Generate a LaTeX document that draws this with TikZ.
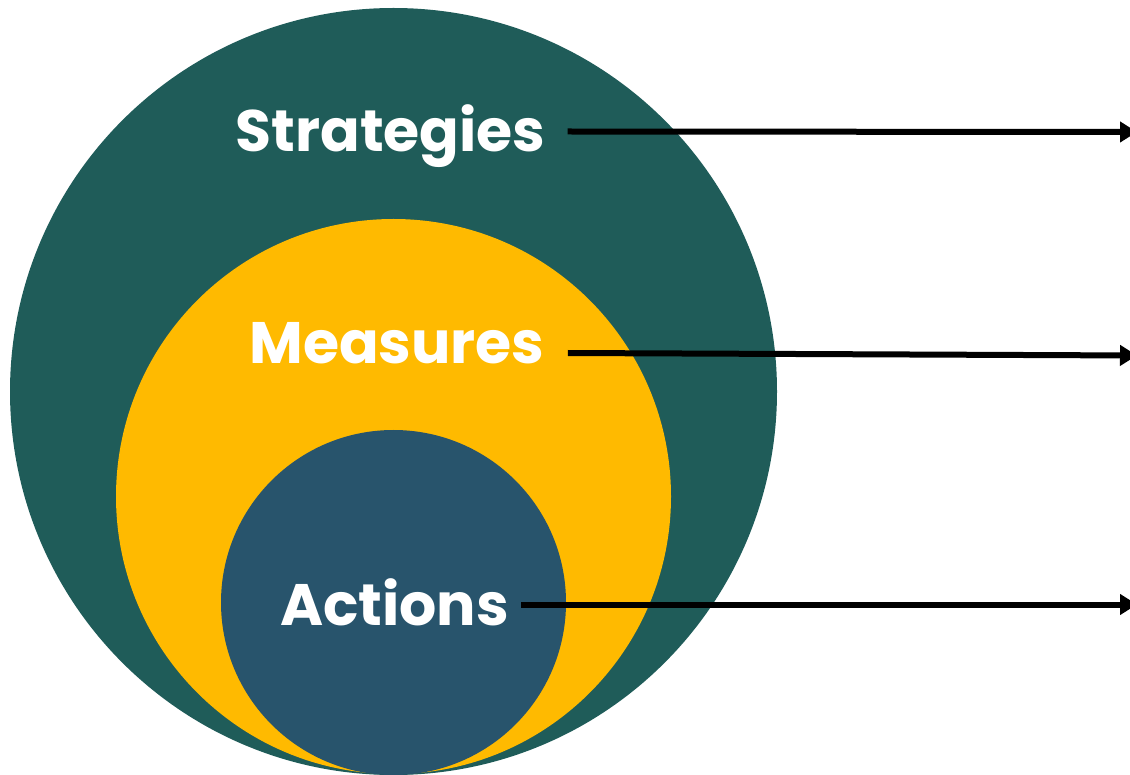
\documentclass[tikz,border=0pt]{standalone}
\usepackage{fontspec}
\setmainfont{Poppins}[UprightFont=* Bold]
\usetikzlibrary{arrows.meta}
\definecolor{cgreen}{RGB}{31,92,89}
\definecolor{cyellow}{RGB}{255,186,0}
\definecolor{cblue}{RGB}{40,84,108}
\tikzset{
  lbl/.style={text=white, font=\fontsize{58.5}{60}\selectfont, inner sep=0pt, text height=41pt, text depth=0pt, anchor=base},
  conn/.style={line width=6pt, draw=black, -{Triangle[length=17pt,width=20pt]}}
}
\begin{document}
\begin{tikzpicture}[x=1pt,y=-1pt]
\useasboundingbox (0,0) rectangle (1130,775);
\fill[cgreen] (393.5,391.5) circle[radius=383.5pt];
\fill[cyellow] (393.5,496.5) circle[radius=277.5pt];
\fill[cblue] (393.5,602.5) circle[radius=172.5pt];
\node[lbl] (strat) at (390.5,152) {Strategies};
\node[lbl] (meas) at (397,363.5) {Measures};
\node[lbl] (act) at (394.5,625) {Actions};
\coordinate (send) at (1137,132);
\coordinate (mend) at (1137,355.5);
\coordinate (aend) at (1137,604.5);
\draw[conn] ([xshift=22pt]strat.east) -- (send);
\draw[conn] ([xshift=23pt,yshift=-10pt]meas.east) -- (mend);
\draw[conn] ([xshift=12pt]act.east) -- (aend);
\end{tikzpicture}
\end{document}
